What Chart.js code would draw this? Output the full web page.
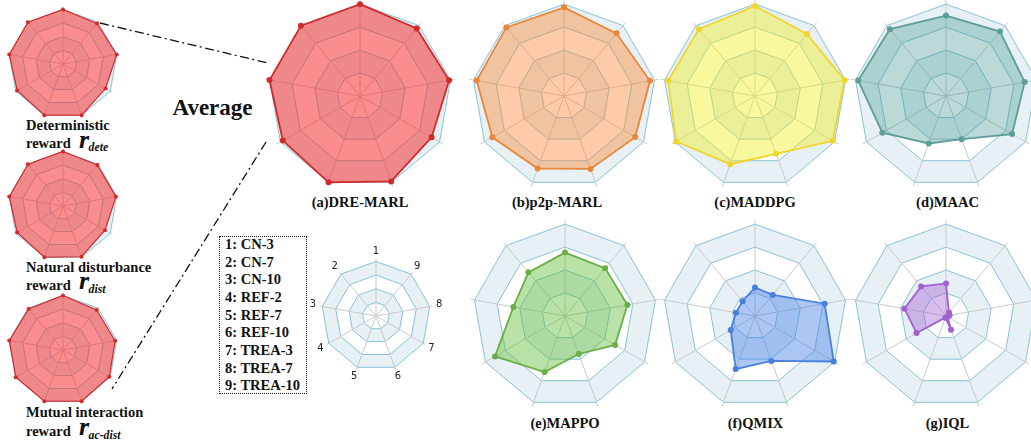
<!DOCTYPE html>
<html><head><meta charset="utf-8">
<script src="https://cdn.jsdelivr.net/npm/chart.js@4.4.0/dist/chart.umd.min.js"></script>
<style>
html,body{margin:0;padding:0;background:#fff;}
body{width:1031px;height:445px;position:relative;overflow:hidden;font-family:"Liberation Serif","Times New Roman",serif;color:#111;}
canvas{position:absolute;}
.t{position:absolute;font-weight:bold;white-space:nowrap;line-height:1;}
.c{text-align:center;width:200px;}
.i{font-style:italic;}
#box{position:absolute;left:219px;top:236px;width:86px;height:156px;border:1.3px dotted #111;}
svg{position:absolute;left:0;top:0;}
</style></head><body>
<svg width="1031" height="445">
  <line x1="100" y1="23" x2="268" y2="63" stroke="#111" stroke-width="1.3" stroke-dasharray="9 3.5 2 3.5"/>
  <line x1="266" y1="142" x2="112" y2="389" stroke="#111" stroke-width="1.3" stroke-dasharray="9 3.5 2 3.5"/>
</svg>
<div id="box"></div>
<div id="txt"></div>
<script>
// ---------- data ----------
const axisLabels = ['1','2','3','4','5','6','7','8','9'];
const scenarioNames = ['CN-3','CN-7','CN-10','REF-2','REF-7','REF-10','TREA-3','TREA-7','TREA-10'];
const ringTicks = [0, 0.25, 0.5, 0.75, 1];
// values per axis 1..9 (fraction of outer ring)
const rDete   = [1.00, 1.00, 1.00, 0.97, 1.00, 1.00, 0.90, 1.00, 0.97];
const rDist   = [1.00, 1.00, 1.00, 0.97, 1.00, 0.99, 0.89, 0.985, 0.98];
const rAcDist = [1.00, 0.98, 1.00, 1.00, 1.00, 1.00, 0.98, 0.97, 0.96];
const dreMarl = [1.00, 1.00, 1.00, 0.97, 1.00, 0.99, 0.90, 0.985, 0.96];
const p2pMarl = [0.965, 0.975, 0.965, 0.90, 0.84, 0.845, 0.895, 0.95, 0.89];
const maddpg  = [0.98, 0.95, 0.96, 0.99, 0.79, 0.67, 0.975, 0.99, 0.88];
const maac    = [0.875, 0.95, 0.97, 0.80, 0.55, 0.50, 0.83, 0.87, 0.915];
const mappo   = [0.69, 0.62, 0.57, 0.88, 0.65, 0.44, 0.63, 0.69, 0.68];
const qmix    = [0.31, 0.21, 0.21, 0.305, 0.615, 0.52, 0.99, 0.77, 0.30];
const iql     = [0.355, 0.42, 0.46, 0.37, 0.02, 0.16, 0.02, 0.04, 0.05];
// chart.js runs clockwise from the top; axes in the figure run counter-clockwise
const clockwise = [0, 8, 7, 6, 5, 4, 3, 2, 1];

// ---------- plugins ----------
const bandPlugin = {
  id: 'bands',
  beforeDraw(chart) {
    const s = chart.scales.r, ctx = chart.ctx, n = chart.data.labels.length;
    ctx.save();
    ctx.fillStyle = '#e7f1f5';
    ctx.beginPath();
    [[ringTicks[1], ringTicks[2]], [ringTicks[3], ringTicks[4]]].forEach(([a, b]) => {
      [b, a].forEach(v => {
        const d = s.getDistanceFromCenterForValue(v);
        for (let i = 0; i < n; i++) {
          const p = s.getPointPosition(i, d);
          if (i) ctx.lineTo(p.x, p.y); else ctx.moveTo(p.x, p.y);
        }
        ctx.closePath();
      });
    });
    ctx.fill('evenodd');
    ctx.restore();
  }
};
const axisTextPlugin = {
  id: 'axisText',
  afterDraw(chart, args, opts) {
    if (!opts.show) return;
    const s = chart.scales.r, ctx = chart.ctx;
    ctx.save();
    ctx.font = '10px "DejaVu Sans"';
    ctx.fillStyle = '#222';
    ctx.textAlign = 'center';
    ctx.textBaseline = 'middle';
    chart.data.labels.forEach((lab, i) => {
      const p = s.getPointPosition(i, s.drawingArea * opts.dist);
      ctx.fillText(lab, p.x, p.y);
    });
    ctx.restore();
  }
};

function radar(cx, cy, D, pad, vals, line, fill, bw, pr, keyLabels) {
  const cv = document.createElement('canvas');
  const size = 2 * D + 2 * pad;
  cv.width = size; cv.height = size;
  cv.style.left = (cx - pad - D) + 'px';
  cv.style.top = (cy - pad - D) + 'px';
  document.body.appendChild(cv);
  const datasets = vals ? [{
    data: clockwise.map(i => vals[i]),
    borderColor: line, backgroundColor: fill, borderWidth: bw,
    pointRadius: pr, pointBackgroundColor: line, pointBorderWidth: 0,
    fill: true, clip: false
  }] : [];
  new Chart(cv, {
    type: 'radar',
    data: { labels: clockwise.map(i => axisLabels[i]), datasets },
    plugins: [bandPlugin, axisTextPlugin],
    options: {
      responsive: false, animation: false, devicePixelRatio: 1,
      layout: { padding: pad },
      elements: { line: { tension: 0 } },
      plugins: { legend: { display: false }, tooltip: { enabled: false },
                 axisText: { show: !!keyLabels, dist: 1.125 } },
      scales: { r: {
        min: 0, max: 1.045,
        afterBuildTicks: s => { s.ticks = ringTicks.map(v => ({ value: v })); },
        ticks: { display: false },
        pointLabels: { display: false },
        grid: { color: '#88c2d7', lineWidth: 1 },
        angleLines: { color: '#c9c9c9', lineWidth: 1 }
      } }
    }
  });
}

const RED = '#d22a2a', REDF = 'rgba(245,50,50,0.55)';
// small reward charts
radar(63, 64, 57, 6, rDete, RED, REDF, 1.2, 2);
radar(63, 206, 57, 6, rDist, RED, REDF, 1.2, 2);
radar(63, 350, 57, 6, rAcDist, RED, REDF, 1.2, 2);
// main charts
radar(360, 96, 96, 6, dreMarl, RED, REDF, 1.8, 3);
radar(564, 96, 96, 6, p2pMarl, '#e8883a', 'rgba(250,140,60,0.45)', 1.8, 3);
radar(755, 96, 96, 6, maddpg, '#f0d62c', 'rgba(240,240,40,0.45)', 1.8, 3);
radar(946, 96, 96, 6, maac, '#5e9e98', 'rgba(60,150,140,0.35)', 1.8, 3);
radar(565, 316, 96, 6, mappo, '#6aae46', 'rgba(100,190,60,0.45)', 1.8, 3);
radar(755, 316, 96, 6, qmix, '#4a7fdc', 'rgba(70,130,230,0.45)', 1.8, 3);
radar(946, 316, 96, 6, iql, '#a162d0', 'rgba(160,90,210,0.4)', 1.8, 3);
// key chart
radar(376, 316, 57, 14, null, null, null, 0, 0, true);

// ---------- text ----------
const txt = document.getElementById('txt');
function put(html, x, baseline, size, cls, extra) {
  const d = document.createElement('div');
  d.className = 't ' + (cls || '');
  d.style.fontSize = size + 'px';
  d.style.top = (baseline - 0.8375 * size) + 'px';
  d.style.left = x + 'px';
  if (extra) Object.assign(d.style, extra);
  d.innerHTML = html;
  txt.appendChild(d);
}
put('Average', 112.5, 115, 23, 'c');
const titles = [['(a)DRE-MARL', 360, 207.5], ['(b)p2p-MARL', 557, 207.5], ['(c)MADDPG', 755, 207.5],
  ['(d)MAAC', 947.5, 207.5], ['(e)MAPPO', 565, 428.5], ['(f)QMIX', 755.5, 428.5], ['(g)IQL', 947.5, 428.5]];
titles.forEach(([s, x, b]) => put(s, x - 100, b, 14.5, 'c'));
scenarioNames.forEach((n, i) => put((i + 1) + ': ' + n, 225, 249 + i * 17.7, 14.5));
const caps = [['Deterministic', 130.5, 148.3, 'dete'], ['Natural disturbance', 271.7, 290, 'dist'],
  ['Mutual interaction', 416.7, 436, 'ac-dist']];
caps.forEach(([l1, b1, b2, sub]) => {
  put(l1, 26, b1, 14.5);
  put('reward', 26, b2, 14.5);
  put('r', 79, b2, 26, 'i');
  put(sub, 88.5, b2 + 3.5, 11.8, 'i');
});
</script>
</body></html>
